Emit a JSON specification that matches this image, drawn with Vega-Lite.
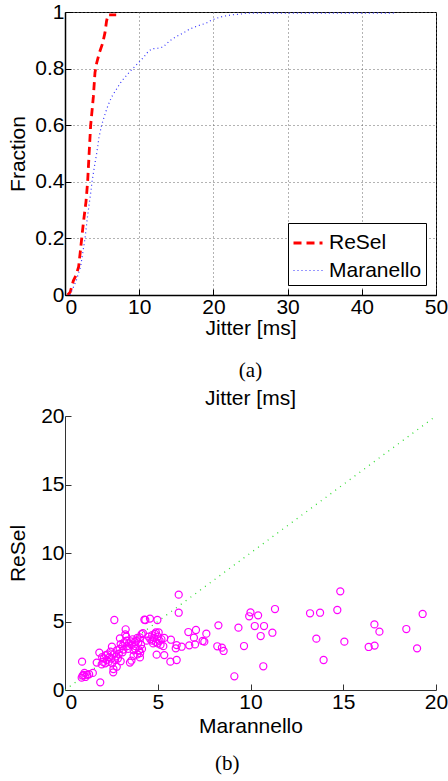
{
  "$schema": "https://vega.github.io/schema/vega-lite/v6.json",
  "background": "white",
  "padding": {"left": 6, "top": 0, "right": 0, "bottom": 3},
  "config": {
    "font": "Liberation Sans",
    "axis": {
      "labelFont": "Liberation Sans", "labelFontSize": 21, "labelColor": "black", "labelFlush": false,
      "titleFont": "Liberation Sans", "titleFontSize": 21, "titleFontWeight": "normal", "titleColor": "black",
      "domainColor": "black", "tickColor": "black", "tickSize": -6, "labelPadding": 5
    },
    "legend": {
      "orient": "bottom-right", "offset": 10, "strokeColor": "black", "fillColor": "white",
      "padding": 4, "labelFontSize": 21, "labelFont": "Liberation Sans", "labelColor": "black",
      "symbolType": "stroke", "symbolSize": 841, "labelOffset": 5, "rowPadding": 2, "cornerRadius": 0
    }
  },
  "resolve": {"legend": {"color": "independent", "strokeDash": "independent", "strokeWidth": "independent"}},
  "datasets": {
    "cdf": [
      {"scheme": "ReSel", "jitter": 0.36, "fraction": 0},
      {"scheme": "ReSel", "jitter": 0.7, "fraction": 0.01},
      {"scheme": "ReSel", "jitter": 1.12, "fraction": 0.05},
      {"scheme": "ReSel", "jitter": 1.5, "fraction": 0.07},
      {"scheme": "ReSel", "jitter": 1.84, "fraction": 0.1},
      {"scheme": "ReSel", "jitter": 2.05, "fraction": 0.15},
      {"scheme": "ReSel", "jitter": 2.25, "fraction": 0.2},
      {"scheme": "ReSel", "jitter": 2.5, "fraction": 0.26},
      {"scheme": "ReSel", "jitter": 2.83, "fraction": 0.33},
      {"scheme": "ReSel", "jitter": 3.05, "fraction": 0.4},
      {"scheme": "ReSel", "jitter": 3.25, "fraction": 0.5},
      {"scheme": "ReSel", "jitter": 3.46, "fraction": 0.6},
      {"scheme": "ReSel", "jitter": 3.82, "fraction": 0.7},
      {"scheme": "ReSel", "jitter": 4.04, "fraction": 0.786},
      {"scheme": "ReSel", "jitter": 4.27, "fraction": 0.82},
      {"scheme": "ReSel", "jitter": 4.63, "fraction": 0.856},
      {"scheme": "ReSel", "jitter": 5.08, "fraction": 0.89},
      {"scheme": "ReSel", "jitter": 5.39, "fraction": 0.927},
      {"scheme": "ReSel", "jitter": 5.6, "fraction": 0.968},
      {"scheme": "ReSel", "jitter": 5.8, "fraction": 0.99},
      {"scheme": "ReSel", "jitter": 6.9, "fraction": 0.99},
      {"scheme": "Maranello", "jitter": 0.67, "fraction": 0},
      {"scheme": "Maranello", "jitter": 1.0, "fraction": 0.02},
      {"scheme": "Maranello", "jitter": 1.5, "fraction": 0.05},
      {"scheme": "Maranello", "jitter": 2.1, "fraction": 0.1},
      {"scheme": "Maranello", "jitter": 2.4, "fraction": 0.15},
      {"scheme": "Maranello", "jitter": 2.7, "fraction": 0.2},
      {"scheme": "Maranello", "jitter": 3.0, "fraction": 0.27},
      {"scheme": "Maranello", "jitter": 3.3, "fraction": 0.33},
      {"scheme": "Maranello", "jitter": 3.46, "fraction": 0.36},
      {"scheme": "Maranello", "jitter": 3.64, "fraction": 0.4},
      {"scheme": "Maranello", "jitter": 4.0, "fraction": 0.46},
      {"scheme": "Maranello", "jitter": 4.27, "fraction": 0.5},
      {"scheme": "Maranello", "jitter": 4.6, "fraction": 0.56},
      {"scheme": "Maranello", "jitter": 4.94, "fraction": 0.6},
      {"scheme": "Maranello", "jitter": 5.4, "fraction": 0.64},
      {"scheme": "Maranello", "jitter": 5.8, "fraction": 0.67},
      {"scheme": "Maranello", "jitter": 6.29, "fraction": 0.7},
      {"scheme": "Maranello", "jitter": 7.0, "fraction": 0.73},
      {"scheme": "Maranello", "jitter": 7.64, "fraction": 0.756},
      {"scheme": "Maranello", "jitter": 8.76, "fraction": 0.79},
      {"scheme": "Maranello", "jitter": 9.88, "fraction": 0.82},
      {"scheme": "Maranello", "jitter": 10.6, "fraction": 0.84},
      {"scheme": "Maranello", "jitter": 11.2, "fraction": 0.86},
      {"scheme": "Maranello", "jitter": 11.7, "fraction": 0.87},
      {"scheme": "Maranello", "jitter": 12.5, "fraction": 0.872},
      {"scheme": "Maranello", "jitter": 13.2, "fraction": 0.876},
      {"scheme": "Maranello", "jitter": 14.2, "fraction": 0.9},
      {"scheme": "Maranello", "jitter": 14.8, "fraction": 0.91},
      {"scheme": "Maranello", "jitter": 15.5, "fraction": 0.92},
      {"scheme": "Maranello", "jitter": 16.2, "fraction": 0.93},
      {"scheme": "Maranello", "jitter": 16.8, "fraction": 0.94},
      {"scheme": "Maranello", "jitter": 18.2, "fraction": 0.954},
      {"scheme": "Maranello", "jitter": 19.0, "fraction": 0.96},
      {"scheme": "Maranello", "jitter": 19.8, "fraction": 0.972},
      {"scheme": "Maranello", "jitter": 20.9, "fraction": 0.982},
      {"scheme": "Maranello", "jitter": 21.4, "fraction": 0.985},
      {"scheme": "Maranello", "jitter": 22.5, "fraction": 0.99},
      {"scheme": "Maranello", "jitter": 23.5, "fraction": 0.992},
      {"scheme": "Maranello", "jitter": 24.5, "fraction": 0.996},
      {"scheme": "Maranello", "jitter": 44.3, "fraction": 0.996}
    ],
    "diag": [
      {"marannello": 0, "resel": 0},
      {"marannello": 20, "resel": 20}
    ],
    "scatter": [
      {"marannello": 0.9, "resel": 0.9}, {"marannello": 0.95, "resel": 1.05}, {"marannello": 1.05, "resel": 1.25},
      {"marannello": 1.1, "resel": 0.95}, {"marannello": 1.2, "resel": 1.1}, {"marannello": 1.3, "resel": 1.15},
      {"marannello": 1.5, "resel": 1.25}, {"marannello": 1.0, "resel": 1.1}, {"marannello": 0.92, "resel": 2.07},
      {"marannello": 1.9, "resel": 0.56},
      {"marannello": 1.71, "resel": 2.0}, {"marannello": 1.85, "resel": 2.73}, {"marannello": 1.98, "resel": 1.87},
      {"marannello": 2.05, "resel": 2.05}, {"marannello": 2.17, "resel": 1.95}, {"marannello": 2.1, "resel": 2.3},
      {"marannello": 2.2, "resel": 2.55}, {"marannello": 2.0, "resel": 2.4}, {"marannello": 2.25, "resel": 2.2},
      {"marannello": 2.3, "resel": 2.6}, {"marannello": 2.35, "resel": 2.05}, {"marannello": 2.4, "resel": 2.4},
      {"marannello": 2.45, "resel": 2.8}, {"marannello": 2.5, "resel": 2.3}, {"marannello": 2.53, "resel": 3.16},
      {"marannello": 2.55, "resel": 1.95}, {"marannello": 2.6, "resel": 1.29}, {"marannello": 2.61, "resel": 1.53},
      {"marannello": 2.64, "resel": 2.6}, {"marannello": 2.66, "resel": 5.11}, {"marannello": 2.7, "resel": 2.2},
      {"marannello": 2.75, "resel": 2.45}, {"marannello": 2.79, "resel": 1.7}, {"marannello": 2.8, "resel": 2.9},
      {"marannello": 2.85, "resel": 2.3}, {"marannello": 2.9, "resel": 2.65}, {"marannello": 2.95, "resel": 3.0},
      {"marannello": 2.96, "resel": 3.77}, {"marannello": 3.0, "resel": 3.35}, {"marannello": 3.0, "resel": 2.1},
      {"marannello": 3.1, "resel": 3.2}, {"marannello": 3.1, "resel": 2.75}, {"marannello": 3.15, "resel": 2.95},
      {"marannello": 3.2, "resel": 3.5}, {"marannello": 3.25, "resel": 4.06}, {"marannello": 3.27, "resel": 4.43},
      {"marannello": 3.3, "resel": 3.9}, {"marannello": 3.33, "resel": 3.6}, {"marannello": 3.35, "resel": 3.2},
      {"marannello": 3.4, "resel": 3.0}, {"marannello": 3.45, "resel": 3.4}, {"marannello": 3.5, "resel": 2.0},
      {"marannello": 3.55, "resel": 3.55}, {"marannello": 3.58, "resel": 2.14}, {"marannello": 3.6, "resel": 3.3},
      {"marannello": 3.65, "resel": 3.7}, {"marannello": 3.7, "resel": 2.9}, {"marannello": 3.75, "resel": 3.5},
      {"marannello": 3.8, "resel": 3.2}, {"marannello": 3.85, "resel": 3.6}, {"marannello": 3.9, "resel": 2.6},
      {"marannello": 3.9, "resel": 3.8}, {"marannello": 3.95, "resel": 3.47}, {"marannello": 4.0, "resel": 2.9},
      {"marannello": 4.04, "resel": 2.38}, {"marannello": 4.04, "resel": 3.84}, {"marannello": 4.1, "resel": 3.3},
      {"marannello": 4.13, "resel": 4.08}, {"marannello": 4.15, "resel": 3.0}, {"marannello": 4.2, "resel": 4.15},
      {"marannello": 3.7, "resel": 2.5}, {"marannello": 3.8, "resel": 3.0}, {"marannello": 4.05, "resel": 2.7},
      {"marannello": 4.28, "resel": 5.13}, {"marannello": 4.33, "resel": 5.11}, {"marannello": 4.4, "resel": 3.6},
      {"marannello": 4.5, "resel": 3.9}, {"marannello": 4.58, "resel": 5.21}, {"marannello": 4.6, "resel": 3.7},
      {"marannello": 4.7, "resel": 4.0}, {"marannello": 4.75, "resel": 3.4}, {"marannello": 4.8, "resel": 3.8},
      {"marannello": 4.85, "resel": 4.1}, {"marannello": 4.9, "resel": 3.5}, {"marannello": 4.94, "resel": 2.58},
      {"marannello": 4.98, "resel": 5.11}, {"marannello": 5.0, "resel": 3.9}, {"marannello": 5.05, "resel": 4.2},
      {"marannello": 5.1, "resel": 3.6}, {"marannello": 5.15, "resel": 3.3}, {"marannello": 5.2, "resel": 3.7},
      {"marannello": 5.3, "resel": 3.2}, {"marannello": 5.35, "resel": 2.55}, {"marannello": 5.35, "resel": 3.8},
      {"marannello": 4.7, "resel": 3.6}, {"marannello": 4.9, "resel": 4.2}, {"marannello": 5.0, "resel": 3.4},
      {"marannello": 5.68, "resel": 2.07}, {"marannello": 5.71, "resel": 3.67}, {"marannello": 5.97, "resel": 3.04},
      {"marannello": 6.02, "resel": 3.28}, {"marannello": 6.02, "resel": 2.19}, {"marannello": 6.13, "resel": 6.96},
      {"marannello": 6.13, "resel": 5.64}, {"marannello": 6.29, "resel": 3.16}, {"marannello": 6.65, "resel": 4.23},
      {"marannello": 6.7, "resel": 3.26}, {"marannello": 6.95, "resel": 3.82}, {"marannello": 7.01, "resel": 3.33},
      {"marannello": 7.06, "resel": 4.38}, {"marannello": 7.42, "resel": 3.58}, {"marannello": 7.51, "resel": 3.53},
      {"marannello": 7.62, "resel": 4.11},
      {"marannello": 8.21, "resel": 3.19}, {"marannello": 8.27, "resel": 4.72}, {"marannello": 8.46, "resel": 3.09},
      {"marannello": 8.55, "resel": 2.85}, {"marannello": 9.13, "resel": 1.0}, {"marannello": 9.35, "resel": 4.55},
      {"marannello": 9.65, "resel": 3.21},
      {"marannello": 9.93, "resel": 5.38}, {"marannello": 10.0, "resel": 5.67}, {"marannello": 10.23, "resel": 4.67},
      {"marannello": 10.41, "resel": 5.45}, {"marannello": 10.55, "resel": 3.94}, {"marannello": 10.69, "resel": 1.73},
      {"marannello": 10.73, "resel": 4.67}, {"marannello": 11.18, "resel": 4.18}, {"marannello": 11.32, "resel": 5.91},
      {"marannello": 13.21, "resel": 5.6}, {"marannello": 13.55, "resel": 3.75}, {"marannello": 13.75, "resel": 5.64},
      {"marannello": 13.94, "resel": 2.19}, {"marannello": 14.68, "resel": 5.84}, {"marannello": 14.84, "resel": 7.2},
      {"marannello": 15.06, "resel": 3.53}, {"marannello": 16.37, "resel": 3.14}, {"marannello": 16.68, "resel": 4.79},
      {"marannello": 16.69, "resel": 3.24}, {"marannello": 16.95, "resel": 4.26}, {"marannello": 18.4, "resel": 4.45},
      {"marannello": 18.98, "resel": 3.04}, {"marannello": 19.28, "resel": 5.55}
    ]
  },
  "spacing": 6,
  "title": {"text": "(b)", "orient": "bottom", "font": "Liberation Serif", "fontSize": 21, "fontWeight": "normal", "color": "black", "anchor": "middle", "offset": 17},
  "vconcat": [
    {
      "width": 371,
      "height": 283,
      "view": {"stroke": "black", "strokeWidth": 1},
      "title": {"text": "(a)", "orient": "bottom", "font": "Liberation Serif", "fontSize": 21, "fontWeight": "normal", "color": "black", "anchor": "middle", "offset": 22},
      "data": {"name": "cdf"},
      "mark": {"type": "line", "clip": true},
      "encoding": {
        "x": {
          "field": "jitter", "type": "quantitative",
          "scale": {"domain": [0, 50], "nice": false},
          "axis": {"title": "Jitter [ms]", "values": [0, 10, 20, 30, 40, 50], "grid": true, "gridDash": [1, 3], "gridColor": "#666", "gridOpacity": 1, "domainWidth": 1.5, "titlePadding": 0, "labelPadding": 7,
            "labelAlign": {"condition": {"test": "datum.value == 0", "value": "left"}, "value": "center"}}
        },
        "y": {
          "field": "fraction", "type": "quantitative",
          "scale": {"domain": [0, 1], "nice": false},
          "axis": {"title": "Fraction", "values": [0, 0.2, 0.4, 0.6, 0.8, 1], "format": "~g", "grid": true, "gridDash": [1, 3], "gridColor": "#666", "gridOpacity": 1, "domainWidth": 1.5, "minExtent": 32, "maxExtent": 32, "titlePadding": 5, "labelPadding": 7}
        },
        "color": {
          "field": "scheme", "type": "nominal",
          "scale": {"domain": ["ReSel", "Maranello"], "range": ["#ff0000", "#3333ff"]},
          "legend": {"title": null}
        },
        "strokeDash": {
          "field": "scheme", "type": "nominal",
          "scale": {"domain": ["ReSel", "Maranello"], "range": [[8, 5], [1, 3]]},
          "legend": {"title": null}
        },
        "strokeWidth": {
          "field": "scheme", "type": "nominal",
          "scale": {"domain": ["ReSel", "Maranello"], "range": [2.8, 1.2]},
          "legend": {"title": null}
        }
      }
    },
    {
      "width": 371,
      "height": 274,
      "view": {"stroke": null},
      "title": {"text": "Jitter [ms]", "font": "Liberation Sans", "fontSize": 21, "fontWeight": "normal", "color": "black", "anchor": "middle", "offset": -4},
      "encoding": {
        "x": {
          "field": "marannello", "type": "quantitative",
          "scale": {"domain": [0, 20], "nice": false},
          "axis": {"title": "Marannello", "values": [0, 5, 10, 15, 20], "grid": false, "domainColor": "#333", "tickColor": "#333", "titlePadding": 3, "labelPadding": 7,
            "labelAlign": {"condition": {"test": "datum.value == 0", "value": "left"}, "value": "center"}}
        },
        "y": {
          "field": "resel", "type": "quantitative",
          "scale": {"domain": [0, 20], "nice": false},
          "axis": {"title": "ReSel", "values": [0, 5, 10, 15, 20], "grid": false, "domainColor": "#333", "tickColor": "#333", "minExtent": 32, "maxExtent": 32, "titlePadding": 5, "labelPadding": 7}
        }
      },
      "layer": [
        {
          "data": {"name": "diag"},
          "mark": {"type": "line", "color": "#33dd33", "strokeDash": [1, 5], "strokeWidth": 1.3}
        },
        {
          "data": {"name": "scatter"},
          "mark": {"type": "point", "shape": "circle", "filled": false, "color": "#ff00ff", "size": 50, "strokeWidth": 1.2, "opacity": 1}
        }
      ]
    }
  ]
}
